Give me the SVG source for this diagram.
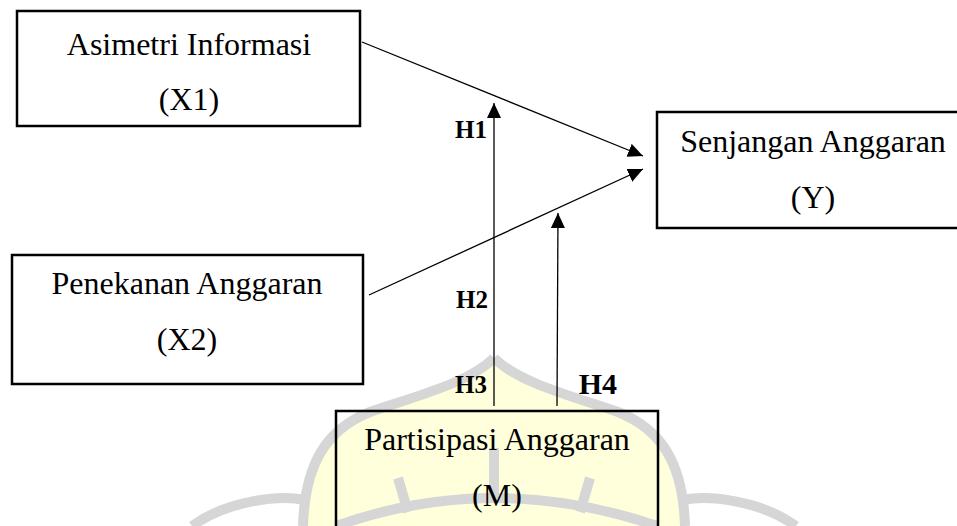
<svg xmlns="http://www.w3.org/2000/svg" width="957" height="526" viewBox="0 0 957 526">
  <defs>
    <style>
      .box { fill: none; stroke: #000; stroke-width: 2.5; }
      .t { font-family: "Liberation Serif", "Times New Roman", serif; font-size: 32px; fill: #000; text-anchor: middle; }
      .h { font-family: "Liberation Serif", "Times New Roman", serif; font-weight: bold; font-size: 25px; fill: #000; text-anchor: end; }
      .con { fill: none; stroke: #000; stroke-width: 1.3; }
      .wm { fill: none; stroke: #d6d6d6; stroke-width: 10; stroke-linecap: butt; }
    </style>
    <marker id="arr" markerUnits="userSpaceOnUse" markerWidth="15" markerHeight="14" refX="15" refY="7" orient="auto">
      <path d="M0,0 L15,7 L0,14 Z" fill="#000"/>
    </marker>
  </defs>
  <rect width="957" height="526" fill="#fff"/>

  <g id="watermark">
    <path d="M494,358 C470,382 420,395 370,412 C325,430 305,465 303,526 L685,526 C683,465 663,430 618,412 C568,395 518,382 494,358 Z" fill="#ffffdc" stroke="none"/>
    <path class="wm" d="M494,358 C470,382 420,395 370,412 C325,430 305,465 303,526"/>
    <path class="wm" d="M494,358 C518,382 568,395 618,412 C663,430 683,465 685,526"/>
    <path class="wm" d="M305,500 C280,495 228,500 192,526"/>
    <path class="wm" d="M683,500 C708,495 760,500 796,526"/>
    <path class="wm" d="M336,526 Q494,470 657,526"/>
    <path class="wm" d="M494,448 L494,498"/>
    <path class="wm" d="M398,478 L408,512"/>
    <path class="wm" d="M590,478 L580,512"/>
  </g>

  <g id="connectors">
    <path class="con" d="M362,42 L643,156" marker-end="url(#arr)"/>
    <path class="con" d="M369,295 L643,169" marker-end="url(#arr)"/>
    <path class="con" d="M494,406 L494,103" marker-end="url(#arr)"/>
    <path class="con" d="M557,406 L558,213" marker-end="url(#arr)"/>
    <text class="h" x="487" y="138">H1</text>
    <text class="h" x="488" y="308">H2</text>
    <text class="h" x="487" y="393">H3</text>
    <text class="h" x="617" y="394" style="font-size:30px">H4</text>
  </g>

  <g id="node-x1">
    <rect class="box" x="17" y="11" width="343" height="115"/>
    <text class="t" x="189" y="55">Asimetri Informasi</text>
    <text class="t" x="189" y="110">(X1)</text>
  </g>

  <g id="node-x2">
    <rect class="box" x="12" y="255" width="351" height="129"/>
    <text class="t" x="187" y="294">Penekanan Anggaran</text>
    <text class="t" x="187" y="350">(X2)</text>
  </g>

  <g id="node-y">
    <rect class="box" x="657" y="112" width="320" height="116"/>
    <text class="t" x="813" y="152">Senjangan Anggaran</text>
    <text class="t" x="813" y="208">(Y)</text>
  </g>

  <g id="node-m">
    <rect class="box" x="336" y="411" width="322" height="130"/>
    <text class="t" x="497" y="450">Partisipasi Anggaran</text>
    <text class="t" x="497" y="506">(M)</text>
  </g>
</svg>
